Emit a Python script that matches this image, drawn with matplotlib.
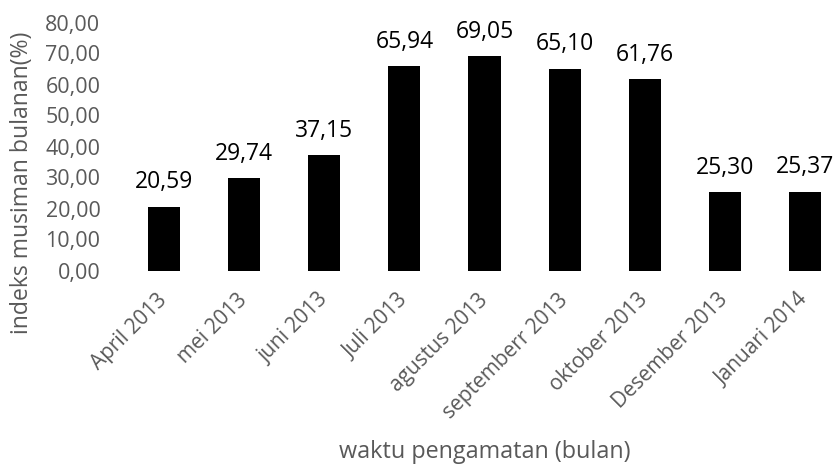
import matplotlib
matplotlib.use("Agg")
import matplotlib.pyplot as plt

categories = ["April 2013", "mei 2013", "juni 2013", "Juli 2013", "agustus 2013",
              "septemberr 2013", "oktober 2013", "Desember 2013", "Januari 2014"]
values = [20.59, 29.74, 37.15, 65.94, 69.05, 65.10, 61.76, 25.30, 25.37]
yticks = [0, 10, 20, 30, 40, 50, 60, 70, 80]

plt.rcParams['font.family'] = ['Open Sans', 'DejaVu Sans']
gray = '#595959'

fig = plt.figure(figsize=(8.36, 4.66), dpi=100)
W, H = 836, 466
left, right, top, bottom = 124, 845, 22.5, 270.5
ax = fig.add_axes([left / W, (H - bottom) / H, (right - left) / W, (bottom - top) / H])

x = list(range(len(categories)))
ax.bar(x, values, width=0.4, color='black')
for xi, v in zip(x, values):
    ax.annotate(f"{v:.2f}".replace('.', ','), (xi, v), xytext=(0, 9),
                textcoords='offset points', ha='center', va='bottom',
                fontsize=16.5, color='black')

ax.set_xlim(-0.5, 8.5)
ax.set_ylim(0, 80)
ax.set_yticks(yticks)
ax.set_yticklabels([f"{t:.2f}".replace('.', ',') for t in yticks], fontsize=15.5, color=gray)
ax.set_xticks(x)
ax.set_xticklabels(categories, rotation=45, ha='right', va='center', rotation_mode='anchor',
                   fontsize=15, color=gray)
ax.tick_params(axis='y', length=0, pad=17)
ax.tick_params(axis='x', length=0, pad=19)
for s in ax.spines.values():
    s.set_visible(False)

fig.text(22 / W, 1 - 183 / H, "indeks musiman bulanan(%)", rotation=90,
         ha='center', va='center', fontsize=16.6, color=gray)
fig.text(485 / W, 1 - 452 / H, "waktu pengamatan (bulan)",
         ha='center', va='center', fontsize=16.8, color=gray)

fig.savefig("out.png", dpi=100)
